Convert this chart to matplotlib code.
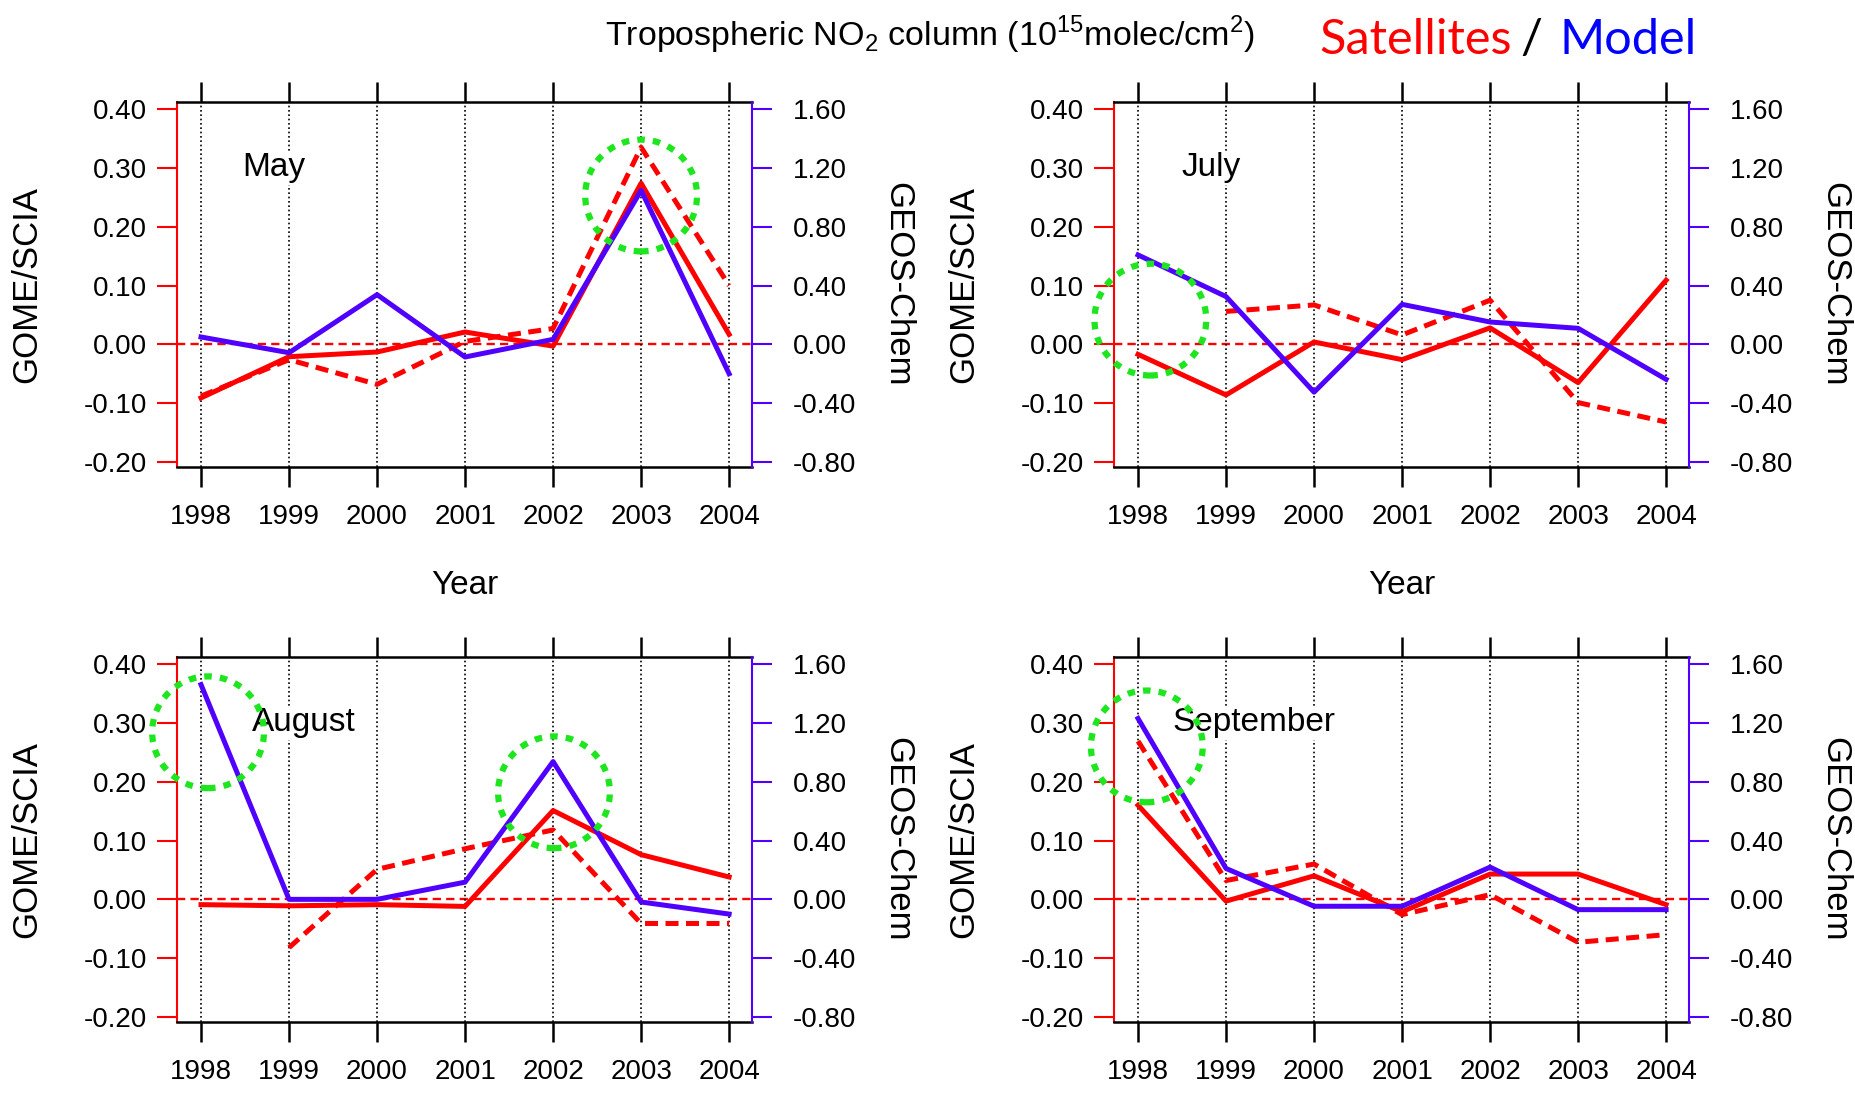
import numpy as np
import matplotlib.pyplot as plt
from matplotlib.patches import Ellipse

plt.rcParams['font.family'] = ['Liberation Sans', 'DejaVu Sans']
plt.rcParams['mathtext.fontset'] = 'custom'
plt.rcParams['mathtext.rm'] = 'Liberation Sans'

nan = np.nan
years = [1998, 1999, 2000, 2001, 2002, 2003, 2004]
months = ['May', 'July', 'August', 'September']

# satellite anomalies (left axis): solid and dashed retrievals
sat_may = [-0.091, -0.021, -0.013, 0.021, -0.003, 0.274, 0.017]
sat_alt_may = [-0.088, -0.026, -0.068, 0.005, 0.027, 0.335, 0.100]
sat_jul = [-0.017, -0.086, 0.004, -0.026, 0.028, -0.065, 0.109]
sat_alt_jul = [nan, 0.056, 0.067, 0.016, 0.075, -0.099, -0.132]
sat_aug = [-0.009, -0.011, -0.009, -0.012, 0.151, 0.076, 0.038]
sat_alt_aug = [nan, -0.082, 0.051, 0.086, 0.118, -0.041, -0.041]
sat_sep = [0.160, -0.003, 0.040, -0.021, 0.043, 0.043, -0.009]
sat_alt_sep = [0.269, 0.032, 0.060, -0.026, 0.008, -0.073, -0.060]

# GEOS-Chem anomalies (right axis)
mod_may = [0.050, -0.057, 0.338, -0.086, 0.034, 1.047, -0.200]
mod_jul = [0.608, 0.325, -0.325, 0.272, 0.152, 0.109, -0.238]
mod_aug = [1.460, 0.000, 0.000, 0.117, 0.937, -0.018, -0.100]
mod_sep = [1.230, 0.210, -0.047, -0.047, 0.219, -0.070, -0.070]

sat = [sat_may, sat_jul, sat_aug, sat_sep]
sat_alt = [sat_alt_may, sat_alt_jul, sat_alt_aug, sat_alt_sep]
mod = [mod_may, mod_jul, mod_aug, mod_sep]

# month label (left edge) and highlighted spots
label_x = [1998.47, 1998.49, 1998.58, 1998.39]
label_y = 0.30
circles = [[(2003.0, 0.253)],
           [(1998.14, 0.042)],
           [(1998.08, 0.284), (2002.01, 0.182)],
           [(1998.10, 0.260)]]

left_ticks = [-0.2, -0.1, 0.0, 0.1, 0.2, 0.3, 0.4]
right_ticks = [-0.8, -0.4, 0.0, 0.4, 0.8, 1.2, 1.6]

RED = '#ff0000'
BLUE = '#5000ff'
GREEN = '#1ee61e'

W, H = 1855, 1095
fig = plt.figure(figsize=(W / 100, H / 100), dpi=100)

corners = [(177, 102), (1114, 102), (177, 657), (1114, 657)]
pw, ph = 575, 365

for i, (left, top) in enumerate(corners):
    ax = fig.add_axes([left / W, 1 - (top + ph) / H, pw / W, ph / H])
    ax2 = ax.twinx()

    ax.grid(axis='x', color='k', lw=1.2, linestyle=(0, (1, 1.6)))
    ax.axhline(0, color=RED, lw=1.7, dashes=(3.5, 2.2), zorder=1)
    ax.plot(years, sat[i], color=RED, lw=3.6)
    ax.plot(years, sat_alt[i], color=RED, lw=3.6, dashes=(2.6, 1.5))
    ax2.plot(years, mod[i], color=BLUE, lw=3.6)

    ax2.text(label_x[i], label_y, months[i], transform=ax.transData,
             ha='left', va='center', fontsize=24, zorder=3,
             bbox=dict(facecolor='white', edgecolor='none', pad=1))
    for cx, cy in circles[i]:
        ax2.add_patch(Ellipse((cx, cy), 1.27, 0.19, transform=ax.transData,
                              fill=False, edgecolor=GREEN, lw=4.5,
                              linestyle=(0, (1.2, 1.3)), zorder=4,
                              clip_on=False))

    ax.set_xlim(1997.727, 2004.26)
    ax.set_ylim(-0.2085, 0.412)
    ax2.set_ylim(-0.834, 1.648)

    ax.set_xticks(years)
    ax.set_yticks(left_ticks)
    ax.set_yticklabels(['%.2f' % v for v in left_ticks])
    ax2.set_yticks(right_ticks)
    ax2.set_yticklabels(['%.2f' % v for v in right_ticks])

    ax.tick_params(axis='x', top=True, bottom=True, direction='out', length=14.4,
                   width=1.8, color='k', labelsize=20, pad=12)
    ax.tick_params(axis='y', direction='out', length=14.4, width=1.5,
                   color=RED, labelcolor='k', labelsize=20, pad=7)
    ax2.tick_params(axis='y', direction='out', length=14.4, width=1.5,
                    color=BLUE, labelcolor='k', labelsize=20, pad=15)

    ax.spines['right'].set_visible(False)
    ax.spines['left'].set_color(RED)
    ax.spines['left'].set_linewidth(1.5)
    for s in ['top', 'bottom']:
        ax.spines[s].set_linewidth(1.8)
        ax2.spines[s].set_visible(False)
    ax2.spines['left'].set_visible(False)
    ax2.spines['right'].set_color(BLUE)
    ax2.spines['right'].set_linewidth(1.5)

    cy_fig = 1 - (top + ph / 2) / H
    fig.text((left - 150) / W, cy_fig, 'GOME/SCIA', rotation=90,
             ha='center', va='center', fontsize=25)
    fig.text((left + pw + 146) / W, cy_fig, 'GEOS-Chem', rotation=-90,
             ha='center', va='center', fontsize=25)
    if top < 300:
        fig.text((left + pw / 2) / W, 1 - 585 / H, 'Year',
                 ha='center', va='center', fontsize=24)

fig.text(930 / W, 1 - 35 / H,
         r'Tropospheric NO$_2$ column (10$^{15}$molec/cm$^2$)',
         ha='center', va='center', fontsize=24.5)
fig.text(1319 / W, 1 - 40 / H, 'Satellites', color=RED, family='Lato',
         ha='left', va='center', fontsize=35)
fig.text(1531 / W, 1 - 40 / H, '/', color='k', family='Lato',
         ha='center', va='center', fontsize=35)
fig.text(1560 / W, 1 - 40 / H, 'Model', color='#0000ff', family='Lato',
         ha='left', va='center', fontsize=35)

fig.savefig('out.png', dpi=100)
